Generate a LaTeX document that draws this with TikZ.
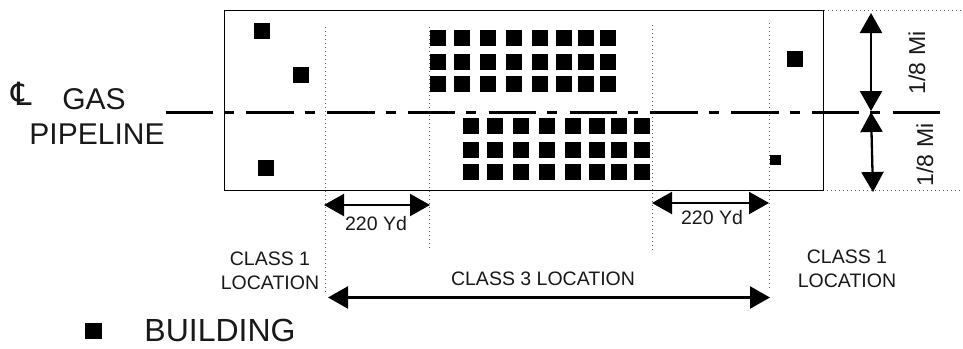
\documentclass[tikz,border=0pt]{standalone}
\usepackage{fontspec}
\setmainfont{Liberation Sans}
\newfontfamily\symfont{DejaVu Sans}
\usetikzlibrary{arrows.meta}
\tikzset{
 x=1pt,y=-1pt,
 bld/.style={fill=black,draw=none},
 guide/.style={draw=black!65,line width=0.9pt,dash pattern=on 1pt off 3pt},
 dim/.style={line width=2.3pt,{Triangle[length=20pt,width=22pt]}-{Triangle[length=20pt,width=22pt]}},
 center line/.style={line width=2.8pt,dash pattern=on 47.5pt off 11pt on 10pt off 12.3pt},
 lbl/.style={inner sep=0pt,align=center,text=black!90},
 big/.style={lbl,font=\fontsize{30}{33}\selectfont},
 small/.style={lbl,font=\fontsize{19.5}{24}\selectfont},
}
\newcommand{\bsq}[2]{\fill[bld] (#1,#2) rectangle ++(16,16);}
\begin{document}
\begin{tikzpicture}
\useasboundingbox (0,0) rectangle (963,348);
\fill[white] (0,0) rectangle (963,348);
% extension lines
\coordinate (tr) at (812,10);
\coordinate (trx) at (963,10);
\coordinate (br) at (823,190);
\coordinate (brx) at (963,190);
\draw[guide] (tr) -- (trx);
\draw[guide] (br) -- (brx);
\draw[guide] (325,27) -- (325,293);
\draw[guide] (429,27) -- (429,251);
\draw[guide] (652,25) -- (652,250);
\draw[guide] (769,23) -- (769,289);
% frame
\draw[black,line width=1pt] (224,10) rectangle (823,190);
% center line
\coordinate (cl0) at (165.5,112.5);
\coordinate (cl1) at (940,112.5);
\draw[center line] (cl0) -- (cl1);
% buildings
\bsq{254}{23}\bsq{293}{67}\bsq{258}{160}\bsq{787}{51}
\fill[bld] (770,155) rectangle ++(11,10);
\foreach \x in {430,453.7,480,505.7,531.7,555.7,578,600.3}
  \foreach \y in {30,54,76}{\bsq{\x}{\y}}
\foreach \x in {462.7,487,513,539.3,565,589,611.3,633.7}
  \foreach \y in {118,141.7,164}{\bsq{\x}{\y}}
% dims
\coordinate (d1a) at (324,205);\coordinate (d1b) at (430,205);
\draw[dim] (d1a) -- (d1b);
\coordinate (d2a) at (652,203);\coordinate (d2b) at (769,203);
\draw[dim] (d2a) -- (d2b);
\coordinate (d3a) at (328,297.5);\coordinate (d3b) at (770,297.5);
\draw[dim] (d3a) -- (d3b);
\coordinate (v1a) at (871,13);\coordinate (v1b) at (871,111);
\draw[dim] (v1a) -- (v1b);
\coordinate (v2a) at (871,112);\coordinate (v2b) at (873,192);
\draw[dim] (v2a) -- (v2b);
% labels
\node[big] (gas) at (94,99) {GAS};
\node[big] (pipe) at (97,134) {PIPELINE};
\node[lbl,font=\symfont\fontsize{32}{34}\selectfont] (cl) at (22,94) {℄};
\node[small] (y1) at (376,224) {220 Yd};
\node[small] (y2) at (712,218) {220 Yd};
\node[small] (c1l) at (270,271) {CLASS 1\\LOCATION};
\node[small] (c1r) at (847,269) {CLASS 1\\LOCATION};
\node[small] (c3) at (543,279) {CLASS 3 LOCATION};
\node[lbl,font=\fontsize{23}{26}\selectfont,rotate=90] (m1) at (917,63) {1/8 Mi};
\node[lbl,font=\fontsize{23}{26}\selectfont,rotate=90] (m2) at (925,155) {1/8 Mi};
\fill[bld] (85,323) rectangle ++(17,16);
\node[lbl,font=\fontsize{32}{34}\selectfont] (b) at (220,330.5) {BUILDING};
\end{tikzpicture}
\end{document}
